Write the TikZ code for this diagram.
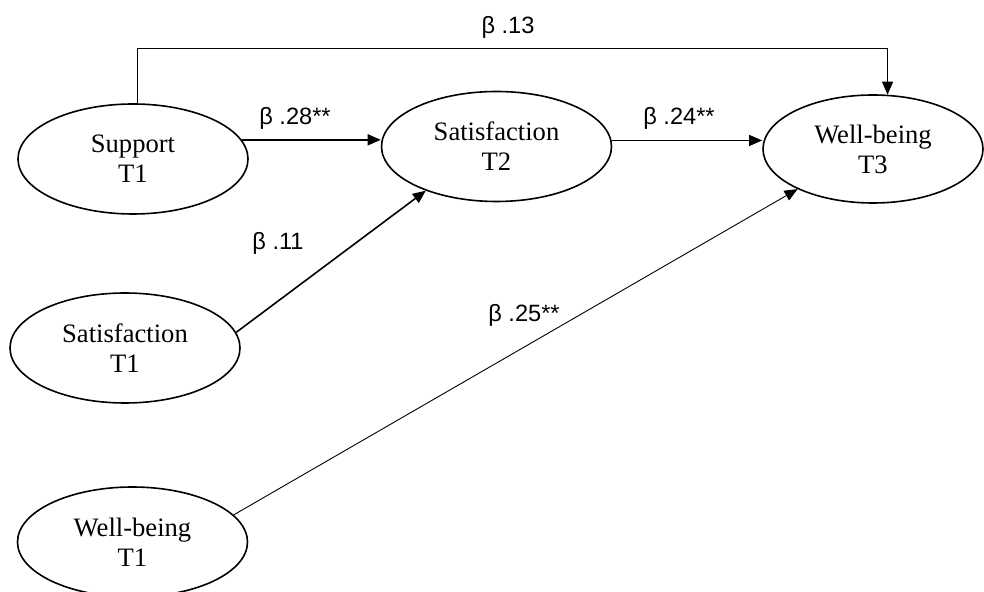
\documentclass[tikz,border=0pt]{standalone}
\usepackage{fontspec}
\setmainfont{Liberation Serif}
\newfontfamily\coeffont{Liberation Sans}
\usetikzlibrary{shapes.geometric,arrows.meta}

\tikzset{
  var/.style={draw, ellipse, line width=0.8pt, minimum width=115pt, minimum height=55pt,
    inner sep=0pt, align=center, font=\fontsize{13.3}{15}\selectfont},
  coef/.style={font=\coeffont\fontsize{11.8}{13}\selectfont},
  strong/.style={line width=0.8pt, -{Triangle[length=6.5pt,width=5.5pt]}},
  weak/.style={line width=0.45pt, -{Triangle[length=6.5pt,width=5.5pt]}}
}

\begin{document}
\begin{tikzpicture}[x=50pt, y=-50pt]
  \useasboundingbox (0,0) rectangle (9.84,5.92);
  \node[var] (sup1) at (1.33,1.59) {Support\\T1};
  \node[var] (sat2) at (4.965,1.465) {Satisfaction\\T2};
  \node[var, minimum width=110pt, minimum height=54pt] (wb3) at (8.73,1.49) {Well-being\\T3};
  \node[var] (sat1) at (1.25,3.48) {Satisfaction\\T1};
  \node[var] (wb1) at (1.325,5.42) {Well-being\\T1};
  \draw[strong] (sup1.10) -- (sup1.10 -| sat2.west);
  \draw[weak] (sat2.3) -- (sat2.3 -| wb3.west);
  \draw[weak] (sup1.85) -- ++(0,-0.55) -| (wb3.75);
  \draw[strong] (sat1.8) -- (sat2.212);
  \draw[weak] (wb1.15) -- (wb3.208);
  \node[coef] (b13) at (5.08,0.27) {β .13};
  \node[coef] (b28) at (2.95,1.18) {β .28**};
  \node[coef] (b24) at (6.79,1.18) {β .24**};
  \node[coef] (b11) at (2.78,2.43) {β .11};
  \node[coef] (b25) at (5.24,3.15) {β .25**};
\end{tikzpicture}
\end{document}
